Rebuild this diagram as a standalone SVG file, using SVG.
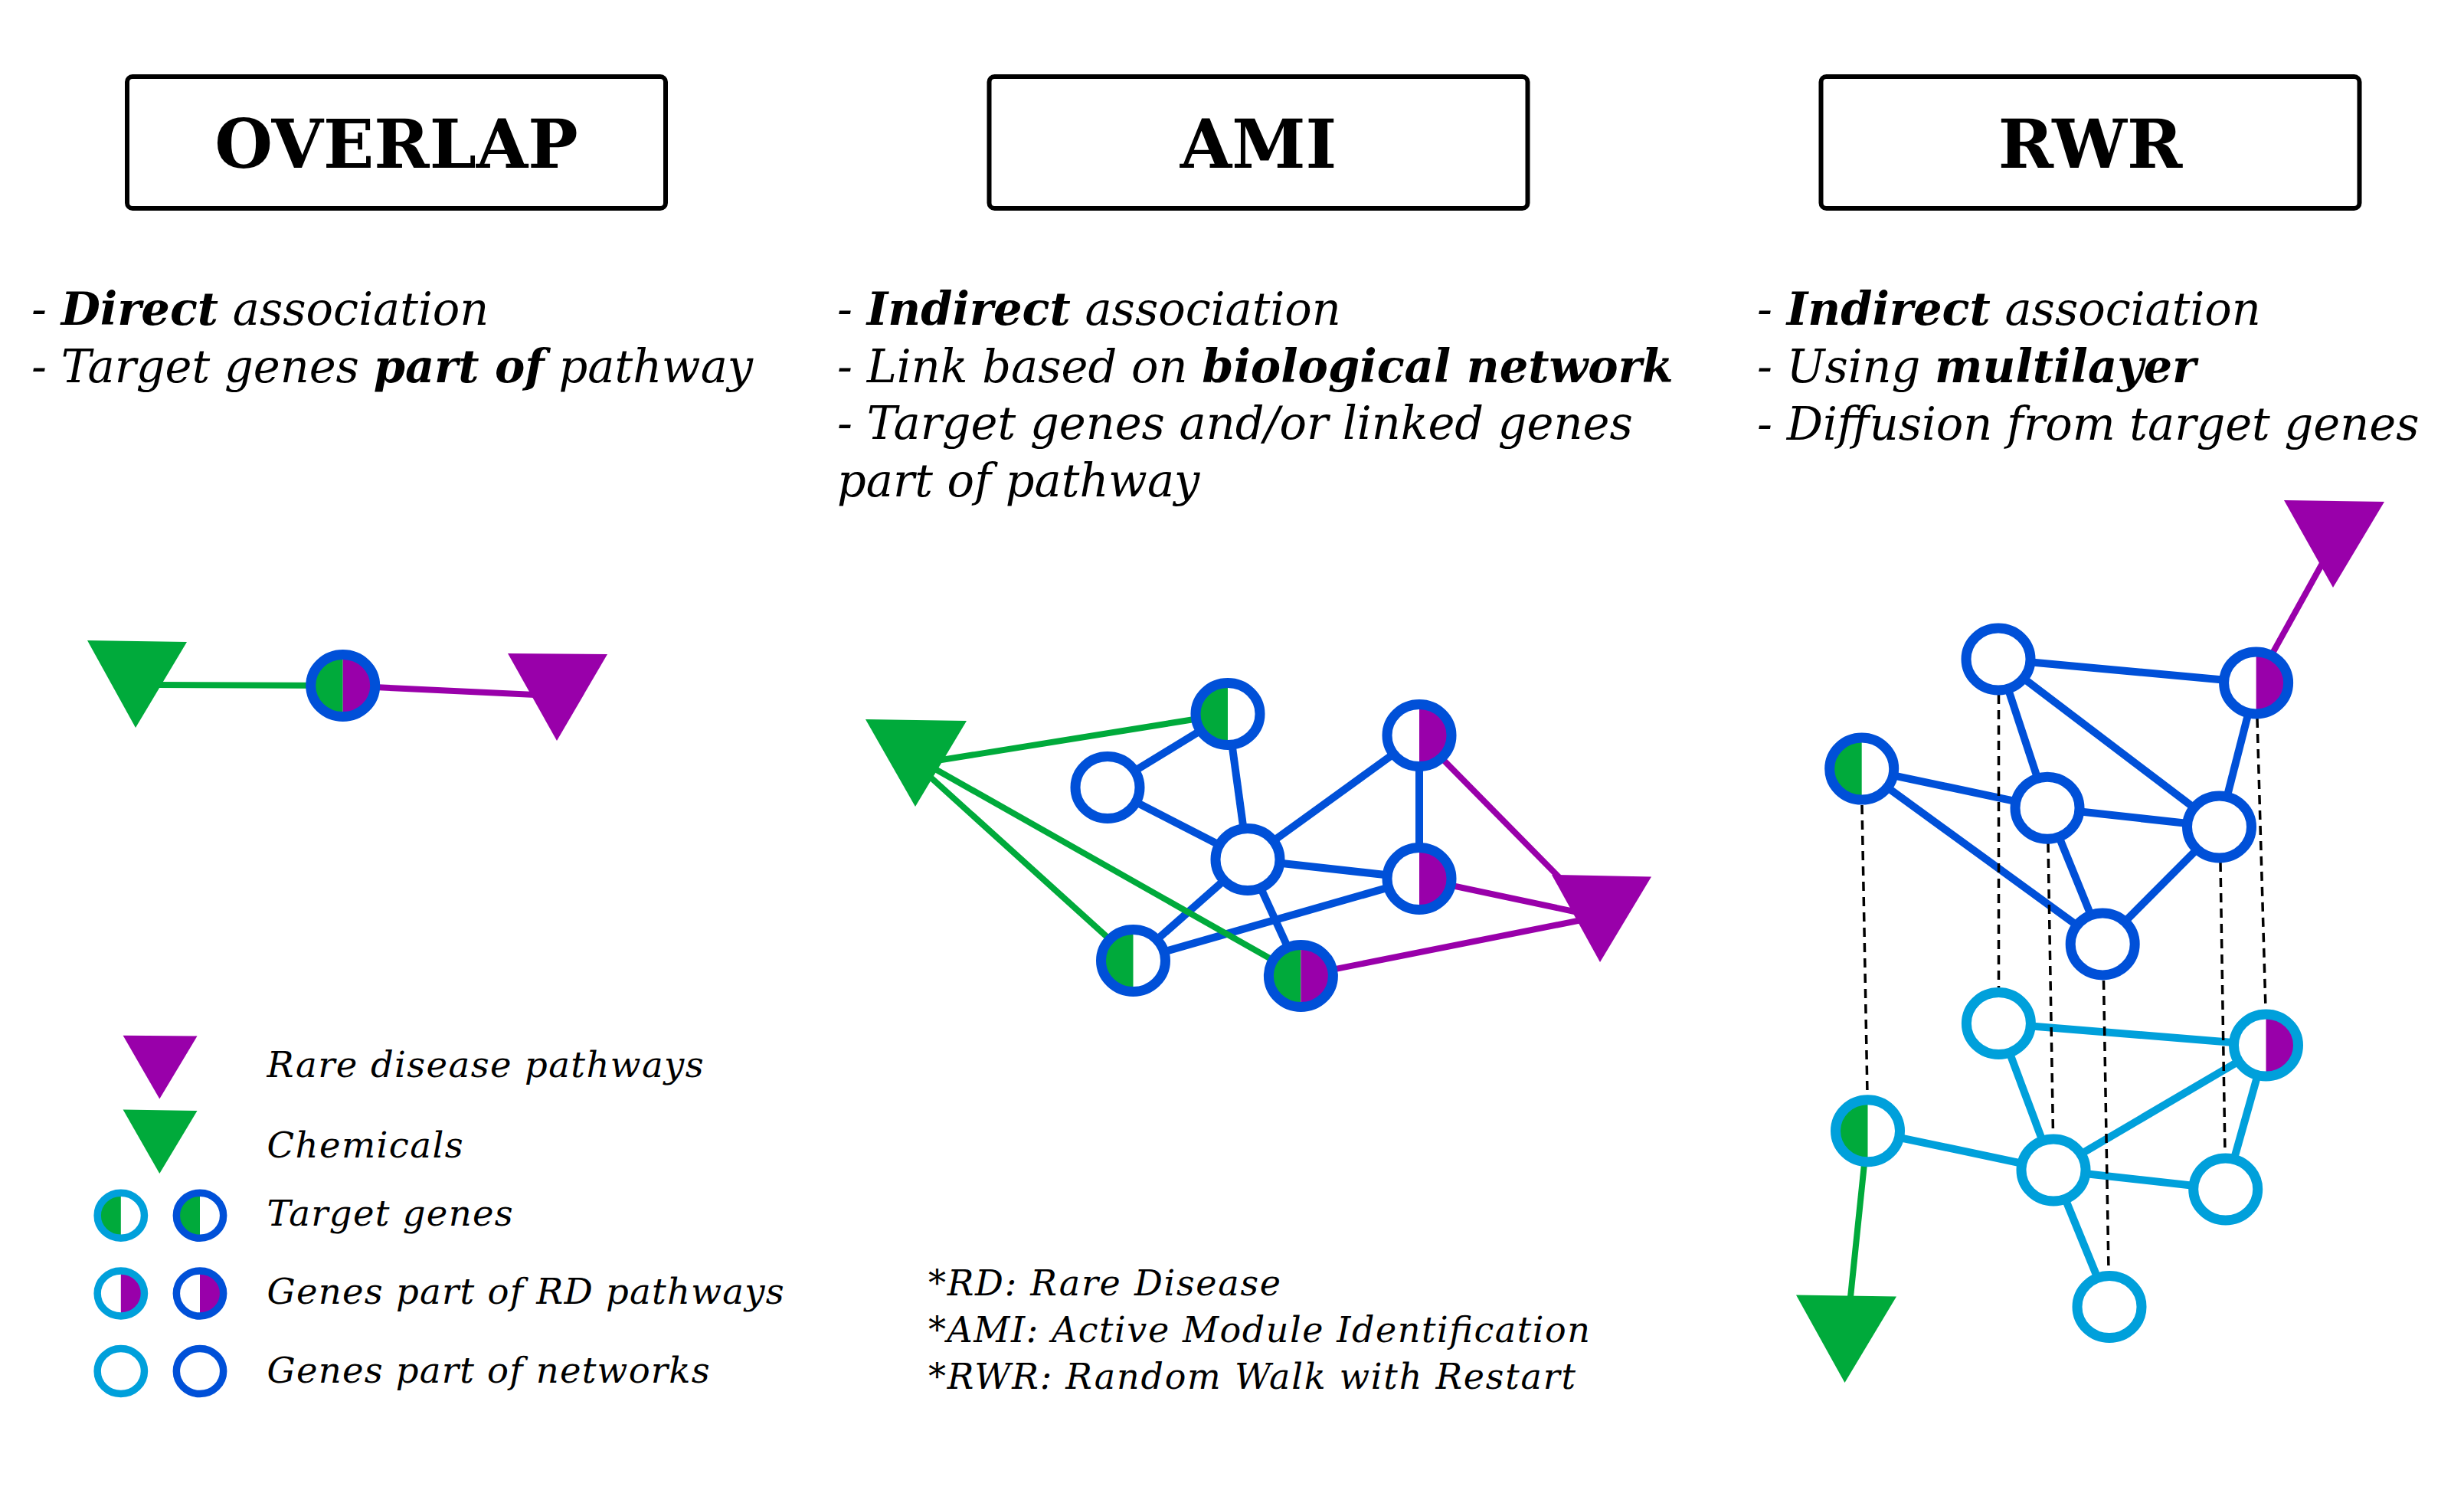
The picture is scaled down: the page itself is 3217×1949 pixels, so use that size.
<svg xmlns="http://www.w3.org/2000/svg" xmlns:xlink="http://www.w3.org/1999/xlink" width="3217" height="1949" viewBox="0 0 3217 1949">
<style>
.title{font-family:'DejaVu Serif',serif;font-weight:bold;font-size:87px;text-anchor:middle;fill:#000}
.desc{font-family:'DejaVu Serif',serif;font-style:italic;font-size:59px;fill:#000}
.leg{font-family:'DejaVu Serif',serif;font-style:italic;font-size:46.5px;fill:#000}
.foot{font-family:'DejaVu Serif',serif;font-style:italic;font-size:46px;fill:#000}
.b{font-weight:bold}
.box{fill:#fff;stroke:#000;stroke-width:6}
.edk{stroke:#0050d8;stroke-width:10;fill:none}
.elt{stroke:#00a0db;stroke-width:10;fill:none}
.gl{stroke:#00aa3b;stroke-width:8;fill:none}
.pl{stroke:#9900aa;stroke-width:8;fill:none}
.dash{stroke:#000;stroke-width:3.5;stroke-dasharray:12 8;fill:none}
.gt{fill:#00aa3b}
.pt{fill:#9900aa}
</style>
<defs>
<ellipse id="bg" rx="42" ry="40.5" fill="#fff"/>
<path id="lh" d="M0,-40.5 A42,40.5 0 0 0 0,40.5 Z"/>
<path id="rh" d="M0,-40.5 A42,40.5 0 0 1 0,40.5 Z"/>
<ellipse id="rdk" rx="42" ry="40.5" fill="none" stroke="#0050d8" stroke-width="13"/>
<ellipse id="rlt" rx="42" ry="40.5" fill="none" stroke="#00a0db" stroke-width="13"/>
<g id="e-dk"><use href="#bg"/><use href="#rdk"/></g>
<g id="t-dk"><use href="#bg"/><use href="#lh" fill="#00aa3b"/><use href="#rdk"/></g>
<g id="r-dk"><use href="#bg"/><use href="#rh" fill="#9900aa"/><use href="#rdk"/></g>
<g id="b-dk"><use href="#bg"/><use href="#lh" fill="#00aa3b"/><use href="#rh" fill="#9900aa"/><use href="#rdk"/></g>
<g id="e-lt"><use href="#bg"/><use href="#rlt"/></g>
<g id="t-lt"><use href="#bg"/><use href="#lh" fill="#00aa3b"/><use href="#rlt"/></g>
<g id="r-lt"><use href="#bg"/><use href="#rh" fill="#9900aa"/><use href="#rlt"/></g>
</defs>
<rect width="3217" height="1949" fill="#fff"/>

<!-- Titles -->
<g id="title-overlap"><rect class="box" x="166" y="100" width="703" height="172" rx="7"/><text class="title" x="517.5" y="219">OVERLAP</text></g>
<g id="title-ami"><rect class="box" x="1291.5" y="100" width="703" height="172" rx="7"/><text class="title" x="1643" y="219">AMI</text></g>
<g id="title-rwr"><rect class="box" x="2377.5" y="100" width="703" height="172" rx="7"/><text class="title" x="2729" y="219">RWR</text></g>

<!-- Descriptions -->
<g id="desc-overlap">
<text class="desc" x="41" y="424">- <tspan class="b">Direct</tspan> association</text>
<text class="desc" x="41" y="499">- Target genes <tspan class="b">part of</tspan> pathway</text>
</g>
<g id="desc-ami">
<text class="desc" x="1093" y="424">- <tspan class="b">Indirect</tspan> association</text>
<text class="desc" x="1093" y="499">- Link based on <tspan class="b">biological network</tspan></text>
<text class="desc" x="1093" y="573">- Target genes and/or linked genes</text>
<text class="desc" x="1093" y="648">part of pathway</text>
</g>
<g id="desc-rwr">
<text class="desc" x="2294" y="424">- <tspan class="b">Indirect</tspan> association</text>
<text class="desc" x="2294" y="499">- Using <tspan class="b">multilayer</tspan></text>
<text class="desc" x="2294" y="574">- Diffusion from target genes</text>
</g>

<!-- Connectors -->
<g id="connectors">
<!-- overlap -->
<line class="gl" x1="205" y1="894" x2="447" y2="895"/>
<line class="pl" x1="447" y1="895" x2="720" y2="908"/>
<!-- AMI network -->
<line class="edk" x1="1603" y1="932" x2="1446" y2="1028"/>
<line class="edk" x1="1603" y1="932" x2="1629" y2="1122"/>
<line class="edk" x1="1446" y1="1028" x2="1629" y2="1122"/>
<line class="edk" x1="1629" y1="1122" x2="1853" y2="960"/>
<line class="edk" x1="1629" y1="1122" x2="1853" y2="1147"/>
<line class="edk" x1="1629" y1="1122" x2="1479.5" y2="1254"/>
<line class="edk" x1="1629" y1="1122" x2="1698.4" y2="1274"/>
<line class="edk" x1="1853" y1="960" x2="1853" y2="1147"/>
<line class="edk" x1="1479.5" y1="1254" x2="1853" y2="1147"/>
<line class="gl" x1="1222.8" y1="993" x2="1603" y2="932"/>
<line class="gl" x1="1222.8" y1="1005" x2="1698.4" y2="1274"/>
<line class="gl" x1="1215.7" y1="1015.4" x2="1479.5" y2="1254"/>
<line class="pl" x1="1853" y1="960" x2="2058" y2="1168"/>
<line class="pl" x1="1853" y1="1147" x2="2065" y2="1192"/>
<line class="pl" x1="1698.4" y1="1274" x2="2065" y2="1201"/>
<!-- RWR upper layer -->
<line class="edk" x1="2609" y1="860.5" x2="2945.6" y2="891.4"/>
<line class="edk" x1="2609" y1="860.5" x2="2673" y2="1054.8"/>
<line class="edk" x1="2609" y1="860.5" x2="2897.5" y2="1079.5"/>
<line class="edk" x1="2945.6" y1="891.4" x2="2897.5" y2="1079.5"/>
<line class="edk" x1="2430.7" y1="1003.6" x2="2673" y2="1054.8"/>
<line class="edk" x1="2430.7" y1="1003.6" x2="2745.2" y2="1232.4"/>
<line class="edk" x1="2673" y1="1054.8" x2="2897.5" y2="1079.5"/>
<line class="edk" x1="2673" y1="1054.8" x2="2745.2" y2="1232.4"/>
<line class="edk" x1="2897.5" y1="1079.5" x2="2745.2" y2="1232.4"/>
<line class="pl" x1="2945.6" y1="891.4" x2="3045" y2="712"/>
<!-- RWR lower layer -->
<line class="elt" x1="2609.4" y1="1336" x2="2958.5" y2="1364.5"/>
<line class="elt" x1="2609.4" y1="1336" x2="2681" y2="1527.5"/>
<line class="elt" x1="2958.5" y1="1364.5" x2="2681" y2="1527.5"/>
<line class="elt" x1="2958.5" y1="1364.5" x2="2905.7" y2="1552.5"/>
<line class="elt" x1="2438.5" y1="1476.3" x2="2681" y2="1527.5"/>
<line class="elt" x1="2681" y1="1527.5" x2="2905.7" y2="1552.5"/>
<line class="elt" x1="2681" y1="1527.5" x2="2754" y2="1706"/>
<line class="gl" x1="2438.5" y1="1476.3" x2="2413" y2="1722"/>
<!-- inter-layer links -->
<line class="dash" x1="2431" y1="1051" x2="2438" y2="1429"/>
<line class="dash" x1="2609.5" y1="907" x2="2609.5" y2="1289"/>
<line class="dash" x1="2674" y1="1101" x2="2680.5" y2="1480"/>
<line class="dash" x1="2746.5" y1="1280" x2="2753" y2="1659"/>
<line class="dash" x1="2899" y1="1126" x2="2905" y2="1506"/>
<line class="dash" x1="2947" y1="938" x2="2958" y2="1317"/>
</g>

<!-- OVERLAP nodes -->
<g id="ov-chem"><polygon class="gt" points="114,836 244,838 177,950"/></g>
<g id="ov-path"><polygon class="pt" points="663,853 793,854 727,967"/></g>
<g id="ov-gene"><use href="#b-dk" x="447.7" y="895"/></g>

<!-- AMI nodes -->
<g id="ami-chem"><polygon class="gt" points="1130,939 1262,941 1195,1053"/></g>
<g id="ami-path"><polygon class="pt" points="2026,1142 2156,1144.5 2089,1256"/></g>
<g id="ami-n1"><use href="#t-dk" x="1603" y="932"/></g>
<g id="ami-n2"><use href="#e-dk" x="1446" y="1028"/></g>
<g id="ami-n3"><use href="#e-dk" x="1629" y="1122"/></g>
<g id="ami-n4"><use href="#r-dk" x="1853" y="960"/></g>
<g id="ami-n5"><use href="#r-dk" x="1853" y="1147"/></g>
<g id="ami-n6"><use href="#t-dk" x="1479.5" y="1254"/></g>
<g id="ami-n7"><use href="#b-dk" x="1698.4" y="1274"/></g>

<!-- RWR nodes -->
<g id="rwr-path"><polygon class="pt" points="2982,653 3113,655 3046,767"/></g>
<g id="rwr-chem"><polygon class="gt" points="2345,1690.6 2476,1692.4 2408.5,1805"/></g>
<g id="rwr-u1"><use href="#e-dk" x="2609" y="860.5"/></g>
<g id="rwr-u2"><use href="#r-dk" x="2945.6" y="891.4"/></g>
<g id="rwr-u3"><use href="#t-dk" x="2430.7" y="1003.6"/></g>
<g id="rwr-u4"><use href="#e-dk" x="2673" y="1054.8"/></g>
<g id="rwr-u5"><use href="#e-dk" x="2897.5" y="1079.5"/></g>
<g id="rwr-u6"><use href="#e-dk" x="2745.2" y="1232.4"/></g>
<g id="rwr-l1"><use href="#e-lt" x="2609.4" y="1336"/></g>
<g id="rwr-l2"><use href="#r-lt" x="2958.5" y="1364.5"/></g>
<g id="rwr-l3"><use href="#t-lt" x="2438.5" y="1476.3"/></g>
<g id="rwr-l4"><use href="#e-lt" x="2681" y="1527.5"/></g>
<g id="rwr-l5"><use href="#e-lt" x="2905.7" y="1552.5"/></g>
<g id="rwr-l6"><use href="#e-lt" x="2754" y="1706"/></g>

<!-- Legend -->
<g id="legend">
<polygon class="pt" points="160.6,1351.7 257.5,1352.4 208.3,1434.5"/>
<polygon class="gt" points="160.6,1448.5 257.5,1450 208.3,1532"/>
<use href="#t-lt" transform="translate(157.8,1586.7) scale(0.73)"/>
<use href="#t-dk" transform="translate(261,1586.7) scale(0.73)"/>
<use href="#r-lt" transform="translate(157.8,1688.5) scale(0.73)"/>
<use href="#r-dk" transform="translate(261,1688.5) scale(0.73)"/>
<use href="#e-lt" transform="translate(157.8,1790) scale(0.73)"/>
<use href="#e-dk" transform="translate(261,1790) scale(0.73)"/>
<text class="leg" x="348.6" y="1405.5" textLength="570" lengthAdjust="spacing">Rare disease pathways</text>
<text class="leg" x="348.6" y="1510.5" textLength="256" lengthAdjust="spacing">Chemicals</text>
<text class="leg" x="348.6" y="1600" textLength="321" lengthAdjust="spacing">Target genes</text>
<text class="leg" x="348.6" y="1702" textLength="675" lengthAdjust="spacing">Genes part of RD pathways</text>
<text class="leg" x="348.6" y="1805" textLength="578" lengthAdjust="spacing">Genes part of networks</text>
</g>

<!-- Footnotes -->
<g id="footnotes">
<text class="foot" x="1212" y="1691" textLength="460" lengthAdjust="spacing">*RD: Rare Disease</text>
<text class="foot" x="1212" y="1752" textLength="864" lengthAdjust="spacing">*AMI: Active Module Identification</text>
<text class="foot" x="1212" y="1813" textLength="845" lengthAdjust="spacing">*RWR: Random Walk with Restart</text>
</g>
</svg>
